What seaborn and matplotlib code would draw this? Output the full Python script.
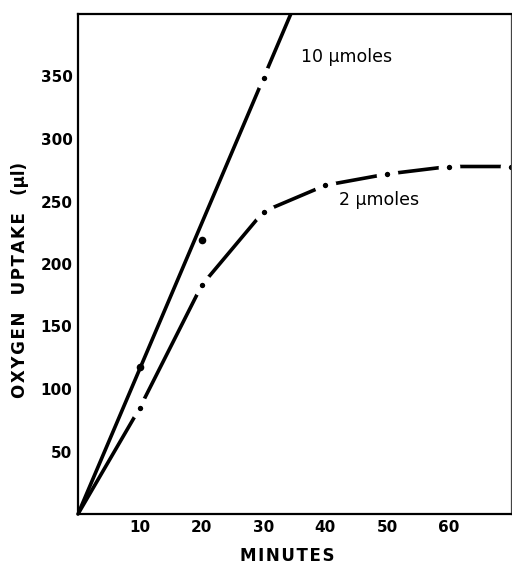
import numpy as np
import pandas as pd
import seaborn as sns
import matplotlib.pyplot as plt

# readings
minutes = [10, 20, 30, 40, 50, 60, 70]
uptake_2 = [85, 183, 242, 263, 272, 278, 278]
minutes_10 = [10, 20, 30]
uptake_10 = [118, 219, 349]
# straight line drawn through the 10 umole points
fit_x = [0, 35]
fit_y = [0, 407]
x_ticks = [10, 20, 30, 40, 50, 60]
y_ticks = [50, 100, 150, 200, 250, 300, 350]

sns.set_style("white")
plt.rcParams['font.family'] = ['DejaVu Sans']
plt.rcParams['text.color'] = 'black'
plt.rcParams['axes.labelcolor'] = 'black'

fig = plt.figure(figsize=(5.12, 5.65), dpi=100)
ax = fig.add_axes([78/512, 51/565, 433/512, 500/565])

dot = dict(markersize=9.8, markerfacecolor='black', markeredgecolor='white', markeredgewidth=5.8)

#2 umoles curve, starts at origin
two = pd.DataFrame({'min': [0] + minutes, 'ul': [0] + uptake_2})
sns.lineplot(data=two, x='min', y='ul', ax=ax, color='black', linewidth=2.6,
             marker='o', markevery=list(range(1, len(two))), clip_on=False, **dot)

#10 umoles straight line
sns.lineplot(x=fit_x, y=fit_y, ax=ax, color='black', linewidth=2.6)
sns.scatterplot(x=minutes_10[:2], y=uptake_10[:2], ax=ax, color='black', s=30, linewidth=0)
ax.plot(minutes_10[-1:], uptake_10[-1:], 'o', color='black', **dot)

ax.text(36, 366, u'10 \u00b5moles', fontsize=12.5, va='center', ha='left')
ax.text(42.2, 251, u'2 \u00b5moles', fontsize=12.5, va='center', ha='left')

ax.set_xlim(0, 70)
ax.set_ylim(0, 400)
ax.set_xticks(x_ticks)
ax.set_yticks(y_ticks)
ax.set_xticklabels([str(t) for t in x_ticks], fontweight='bold', fontsize=11)
ax.set_yticklabels([str(t) for t in y_ticks], fontweight='bold', fontsize=11)
ax.tick_params(direction='in', length=6, width=1.5, pad=4, colors='black')
ax.set_xlabel(u'M\u200aI\u200aN\u200aU\u200aT\u200aE\u200aS', fontsize=12, fontweight='bold')
ax.set_ylabel(u'O\u200aX\u200aY\u200aG\u200aE\u200aN   U\u200aP\u200aT\u200aA\u200aK\u200aE   (\u00b5l)',
              fontsize=12, fontweight='bold')
ax.xaxis.set_label_coords(0.483, -0.066)
ax.yaxis.set_label_coords(-0.113, 0.468)

for side in ['left', 'bottom', 'top']:
    ax.spines[side].set_linewidth(1.6)
    ax.spines[side].set_color('black')
ax.spines['right'].set_linewidth(0.9)
ax.spines['right'].set_color('#444444')

fig.savefig('out.png', dpi=100)
